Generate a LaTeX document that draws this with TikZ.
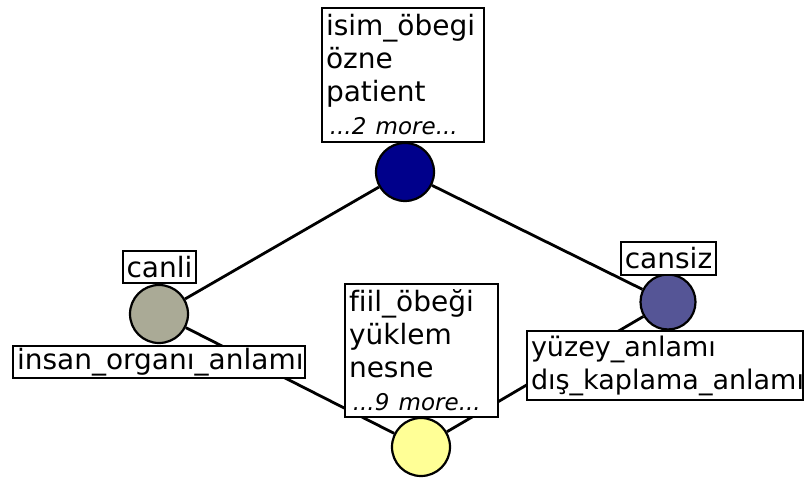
\documentclass[tikz,border=0pt]{standalone}
\usepackage{fontspec}
\setmainfont[Ligatures=NoCommon]{DejaVu Sans}
\definecolor{topnavy}{RGB}{0,0,139}
\definecolor{olivegrey}{RGB}{170,170,150}
\definecolor{slateblue}{RGB}{85,85,150}
\definecolor{paleyellow}{RGB}{255,255,150}
\begin{document}
\begin{tikzpicture}[x=1pt,y=-1pt]
\tikzset{
  lbl/.style={draw, line width=2pt, fill=white, inner xsep=4pt, inner ysep=0pt,
    align=left, font=\fontsize{28}{33}\selectfont},
  vtx/.style={circle, draw, line width=2.2pt, minimum size=58pt, inner sep=0pt},
  link/.style={line width=2.8pt}
}
\useasboundingbox (0,0) rectangle (805,478);

% concept vertices
\node[vtx, fill=topnavy]    (top)    at (405,172) {};
\node[vtx, fill=olivegrey]  (canli)  at (159,314) {};
\node[vtx, fill=slateblue, minimum size=55pt] (cansiz) at (668,302) {};
\node[vtx, fill=paleyellow] (bottom) at (421,447) {};

% lattice edges
\draw[link] (top) -- (canli);
\draw[link] (top) -- (cansiz);
\draw[link] (canli) -- (bottom);
\draw[link] (cansiz) -- (bottom);

% labels
\node[lbl, text width=154pt, minimum height=134pt] (topLbl) at (403,75)
  {isim\_öbegi\\özne\\patient\\{\fontsize{23}{30}\selectfont\itshape\,...2 more...}};
\node[lbl, text width=145pt, minimum height=133pt] (botLbl) at (421.5,350.5)
  {fiil\_öbeği\\yüklem\\nesne\\{\fontsize{23}{30}\selectfont\itshape\,...9 more...}};
\node[lbl, minimum height=32pt] (canliLbl) at (159.5,267) {canli};
\node[lbl, minimum height=33pt] (cansizLbl) at (668.5,258.5) {cansiz};
\node[lbl, text width=284pt, minimum height=32pt] (insanLbl) at (159,362) {insan\_organı\_anlamı};
\node[lbl, text width=268pt, minimum height=69pt, font=\fontsize{27}{33}\selectfont] (yuzeyLbl) at (665,365.5)
  {yüzey\_anlamı\\dış\_kaplama\_anlamı};
\end{tikzpicture}
\end{document}
